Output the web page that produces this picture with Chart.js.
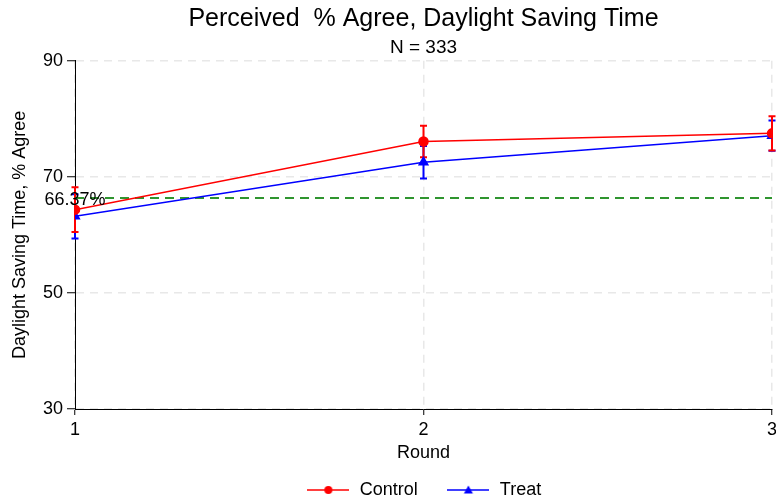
<!DOCTYPE html>
<html>
<head>
<meta charset="utf-8">
<script src="https://cdn.jsdelivr.net/npm/chart.js@4/dist/chart.umd.min.js"></script>
<style>
  html, body { margin: 0; padding: 0; background: #fff; overflow: hidden; }
</style>
</head>
<body>
<canvas id="myChart" width="776" height="509"></canvas>
<script>
// Perceived % agree across rounds, with error bars

const rounds = [1, 2, 3];
const controlValues = [64.35, 76.1, 77.5];
const controlErr = [3.85, 2.7, 2.95];
const treatValues = [63.2, 72.5, 77.1];
const treatErr = [3.8, 2.8, 2.6];
const refValue = 66.37;
const yTicks = [30, 50, 70, 90];

const FONT = "'Liberation Sans', Arial, Helvetica, sans-serif";

function toPoints(values) {
  return rounds.map((r, i) => ({ x: r, y: values[i] }));
}

// little line + marker pictures for the legend
function legendIcon(color, style) {
  const c = document.createElement("canvas");
  c.width = 42;
  c.height = 12;
  const g = c.getContext("2d");
  g.strokeStyle = color;
  g.fillStyle = color;
  g.lineWidth = 1.5;
  g.beginPath();
  g.moveTo(0, 6);
  g.lineTo(42, 6);
  g.stroke();
  g.beginPath();
  if (style === "circle") {
    g.arc(21, 6, 4, 0, Math.PI * 2);
  } else {
    g.moveTo(21, 1.5);
    g.lineTo(25.5, 9.5);
    g.lineTo(16.5, 9.5);
    g.closePath();
  }
  g.fill();
  return c;
}

const errorBars = {
  id: "errorBars",
  beforeDatasetsDraw(chart) {
    const ctx = chart.ctx;
    const xs = chart.scales.x;
    const ys = chart.scales.y;
    const sets = [
      { vals: treatValues, err: treatErr, color: "#0000ff" },
      { vals: controlValues, err: controlErr, color: "#ff0000" },
    ];
    ctx.save();
    ctx.lineWidth = 2;
    sets.forEach((s) => {
      ctx.strokeStyle = s.color;
      rounds.forEach((r, i) => {
        const px = xs.getPixelForValue(r);
        const top = ys.getPixelForValue(s.vals[i] + s.err[i]);
        const bot = ys.getPixelForValue(s.vals[i] - s.err[i]);
        ctx.beginPath();
        ctx.moveTo(px, top);
        ctx.lineTo(px, bot);
        ctx.moveTo(px - 3.5, top);
        ctx.lineTo(px + 3.5, top);
        ctx.moveTo(px - 3.5, bot);
        ctx.lineTo(px + 3.5, bot);
        ctx.stroke();
      });
    });
    ctx.restore();
  },
  afterDatasetsDraw(chart) {
    const ctx = chart.ctx;
    const px = chart.scales.x.getPixelForValue(rounds[0]);
    const py = chart.scales.y.getPixelForValue(refValue);
    ctx.save();
    ctx.font = "18px " + FONT;
    ctx.fillStyle = "#000";
    ctx.textAlign = "center";
    ctx.textBaseline = "middle";
    ctx.fillText(refValue.toFixed(2) + "%", px, py + 2);
    ctx.restore();
  },
};

const ctx = document.getElementById("myChart");

new Chart(ctx, {
  type: "line",
  data: {
    datasets: [
      {
        label: "Control",
        data: toPoints(controlValues),
        borderColor: "#ff0000",
        backgroundColor: "#ff0000",
        borderWidth: 1.5,
        pointStyle: "circle",
        pointRadius: 4.5,
        pointHoverRadius: 4.5,
      },
      {
        label: "Treat",
        data: toPoints(treatValues),
        borderColor: "#0000ff",
        backgroundColor: "#0000ff",
        borderWidth: 1.5,
        pointStyle: "triangle",
        pointRadius: 5,
        pointHoverRadius: 5,
      },
      {
        label: "ref",
        data: [
          { x: rounds[0], y: refValue },
          { x: rounds[rounds.length - 1], y: refValue },
        ],
        borderColor: "#2f952f",
        borderWidth: 2,
        borderDash: [9, 6],
        pointRadius: 0,
        pointHoverRadius: 0,
      },
    ],
  },
  options: {
    responsive: false,
    animation: false,
    events: [],
    layout: { autoPadding: false, padding: { left: 0, right: 4, top: 0, bottom: 0 } },
    plugins: {
      title: {
        display: true,
        fullSize: false,
        text: "Perceived  % Agree, Daylight Saving Time",
        color: "#000",
        font: { family: FONT, size: 25, weight: "normal" },
        padding: { top: 4, bottom: 0 },
      },
      subtitle: {
        display: true,
        fullSize: false,
        text: "N = 333",
        color: "#000",
        font: { family: FONT, size: 19, weight: "normal" },
        padding: { top: 2, bottom: 2 },
      },
      legend: {
        position: "bottom",
        fullSize: false,
        labels: {
          filter: (item) => item.text !== "ref",
          usePointStyle: true,
          pointStyleWidth: 45,
          boxHeight: 12,
          padding: 28,
          color: "#000",
          font: { family: FONT, size: 18 },
          generateLabels: (chart) =>
            chart.data.datasets.map((d, i) => ({
              text: d.label,
              datasetIndex: i,
              pointStyle: legendIcon(d.borderColor, d.pointStyle),
              fontColor: "#000",
              lineWidth: 0,
            })),
        },
      },
      tooltip: { enabled: false },
    },
    scales: {
      x: {
        type: "linear",
        min: 1,
        max: 3,
        afterFit: (scale) => {
          scale.height = 44;
          scale.paddingLeft = 0;
          scale.paddingRight = 0;
        },
        title: {
          display: true,
          text: "Round",
          color: "#000",
          font: { family: FONT, size: 18 },
          padding: { top: 0, bottom: -11 },
        },
        ticks: {
          stepSize: 1,
          color: "#000",
          font: { family: FONT, size: 18 },
          padding: 4,
        },
        grid: {
          color: "#e8e8e8",
          lineWidth: 1.5,
          tickColor: "#000",
          tickLength: 6,
          tickWidth: 1,
        },
        border: { display: true, color: "#000", width: 1, dash: [8, 6] },
      },
      y: {
        min: 30,
        max: 90,
        afterBuildTicks: (scale) => {
          scale.ticks = yTicks.map((v) => ({ value: v }));
        },
        afterFit: (scale) => {
          scale.width = 75;
        },
        title: {
          display: true,
          text: "Daylight Saving Time, % Agree",
          color: "#000",
          font: { family: FONT, size: 18 },
          padding: { top: 9, bottom: 0 },
        },
        ticks: {
          color: "#000",
          font: { family: FONT, size: 18 },
          padding: 4,
        },
        grid: {
          color: "#e8e8e8",
          lineWidth: 1.5,
          tickColor: "#000",
          tickLength: 8,
          tickWidth: 1,
        },
        border: { display: true, color: "#000", width: 1, dash: [8, 6] },
      },
    },
  },
  plugins: [errorBars],
});
</script>
</body>
</html>
